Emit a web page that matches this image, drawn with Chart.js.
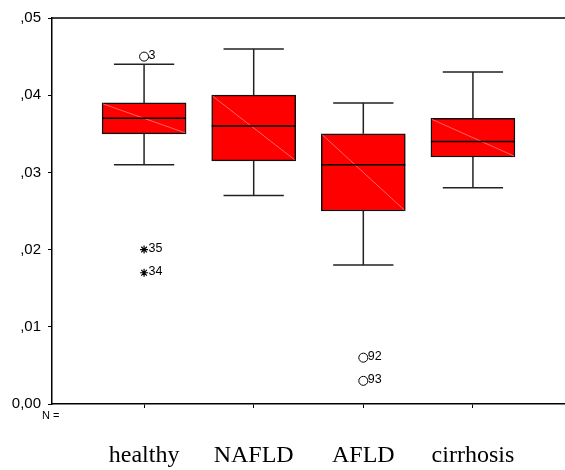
<!DOCTYPE html>
<html>
<head>
<meta charset="utf-8">
<script src="https://cdn.jsdelivr.net/npm/chart.js@4.4.1/dist/chart.umd.min.js"></script>
<style>
  html, body { margin: 0; padding: 0; background: #ffffff; }
  #wrap { width: 565px; height: 470px; position: relative; }
</style>
</head>
<body>
<div id="wrap"><canvas id="c" width="565" height="470"></canvas></div>
<script>
// ---- data ----
const categories   = ['healthy', 'NAFLD', 'AFLD', 'cirrhosis'];
const whiskerLow   = [0.031, 0.027, 0.018, 0.028];
const q1           = [0.035, 0.0315, 0.025, 0.032];
const median       = [0.037, 0.036, 0.031, 0.034];
const q3           = [0.039, 0.040, 0.035, 0.037];
const whiskerHigh  = [0.044, 0.046, 0.039, 0.043];

const outlierGroup = [0, 0, 0, 2, 2];
const outlierValue = [0.045, 0.020, 0.017, 0.006, 0.003];
const outlierId    = ['3', '35', '34', '92', '93'];
const outlierMark  = ['circle', 'star', 'star', 'circle', 'circle'];

const yTickValues  = [0, 0.01, 0.02, 0.03, 0.04, 0.05];
const yTickLabels  = ['0,00', ',01', ',02', ',03', ',04', ',05'];

// ---- style constants ----
const BOX_HALF = 0.383;   // half box width, in category units
const CAP_HALF = 0.275;   // half whisker-cap width
const pos = categories.map((_, i) => i + 1);

function segments(fn) {
  const out = [];
  pos.forEach((p, i) => {
    fn(p, i).forEach(pt => out.push(pt));
    out.push({ x: p + 0.5, y: null });
  });
  return out;
}

const boxData = pos.map((p, i) => ({ x: p, y: [q1[i], q3[i]] }));
const medianData = segments((p, i) => [{ x: p - BOX_HALF, y: median[i] }, { x: p + BOX_HALF, y: median[i] }]);
const whiskerData = segments((p, i) => [
  { x: p, y: q3[i] }, { x: p, y: whiskerHigh[i] }, { x: p, y: null },
  { x: p, y: q1[i] }, { x: p, y: whiskerLow[i] }
]);
const capData = segments((p, i) => [
  { x: p - CAP_HALF, y: whiskerHigh[i] }, { x: p + CAP_HALF, y: whiskerHigh[i] }, { x: p, y: null },
  { x: p - CAP_HALF, y: whiskerLow[i] }, { x: p + CAP_HALF, y: whiskerLow[i] }
]);
const circleOut = [], starOut = [];
outlierValue.forEach((v, k) => {
  const pt = { x: pos[outlierGroup[k]], y: v };
  (outlierMark[k] === 'circle' ? circleOut : starOut).push(pt);
});

const decor = {
  id: 'decor',
  afterDatasetDraw(chart, args) {
    if (args.meta.type !== 'bar') return;
    const ctx = chart.ctx;
    ctx.save();
    ctx.strokeStyle = 'rgba(255,140,140,0.9)';
    ctx.lineWidth = 0.8;
    args.meta.data.forEach(el => {
      const p = el.getProps(['x', 'y', 'base', 'width'], true);
      const l = p.x - p.width / 2, r = p.x + p.width / 2;
      const top = Math.min(p.y, p.base), bot = Math.max(p.y, p.base);
      ctx.beginPath();
      ctx.moveTo(l + 1, top + 1);
      ctx.lineTo(r - 1, bot - 1);
      ctx.stroke();
    });
    ctx.restore();
  },
  afterDraw(chart) {
    const ctx = chart.ctx, a = chart.chartArea;
    const xs = chart.scales.x, ys = chart.scales.y;
    ctx.save();
    // top frame line
    ctx.strokeStyle = '#000';
    ctx.lineWidth = 1.5;
    ctx.beginPath();
    ctx.moveTo(a.left, a.top);
    ctx.lineTo(chart.width, a.top);
    ctx.stroke();
    // outlier ids
    ctx.fillStyle = '#000';
    ctx.font = '12.5px "Liberation Sans", Arial, sans-serif';
    ctx.textBaseline = 'middle';
    ctx.textAlign = 'left';
    outlierValue.forEach((v, k) => {
      const px = xs.getPixelForValue(pos[outlierGroup[k]]);
      const py = ys.getPixelForValue(v);
      ctx.fillText(outlierId[k], px + 4.5, py - 1);
    });
    // N = label
    ctx.font = '11px "Liberation Sans", Arial, sans-serif';
    ctx.textAlign = 'left';
    ctx.fillText('N =', 42, a.bottom + 12);
    ctx.restore();
  }
};

new Chart(document.getElementById('c'), {
  type: 'bar',
  data: {
    datasets: [
      { type: 'line', data: medianData, borderColor: '#000', borderWidth: 1.5, pointRadius: 0, spanGaps: false, order: 0 },
      { type: 'bar', data: boxData, backgroundColor: '#ff0000', borderColor: '#111', borderWidth: 1.5,
        borderSkipped: false, barThickness: 84, order: 1 },
      { type: 'line', data: whiskerData, borderColor: '#222', borderWidth: 1.5, pointRadius: 0, spanGaps: false, order: 2 },
      { type: 'line', data: capData, borderColor: '#222', borderWidth: 1.5, pointRadius: 0, spanGaps: false, order: 2 },
      { type: 'scatter', data: circleOut, pointStyle: 'circle', pointRadius: 4.5, pointBorderColor: '#000',
        pointBackgroundColor: 'rgba(0,0,0,0)', pointBorderWidth: 1, order: 0 },
      { type: 'scatter', data: starOut, pointStyle: 'star', pointRadius: 4, pointBorderColor: '#000',
        pointBorderWidth: 1.2, order: 0 }
    ]
  },
  options: {
    responsive: false,
    animation: false,
    events: [],
    layout: { autoPadding: false, padding: { top: 18, left: 0, right: 0, bottom: 0 } },
    plugins: { legend: { display: false }, tooltip: { enabled: false } },
    scales: {
      x: {
        type: 'linear',
        offset: false,
        min: 0.16, max: 4.84,
        afterBuildTicks: s => { s.ticks = pos.map(v => ({ value: v })); },
        afterFit: s => { s.height = 66; s.paddingRight = 0; s.paddingLeft = 0; },
        grid: { display: true, offset: false, drawOnChartArea: false, drawTicks: true, tickLength: 4, color: '#000', lineWidth: 1 },
        border: { display: true, color: '#000', width: 1.5 },
        ticks: {
          autoSkip: false, maxRotation: 0, padding: 33, color: '#000',
          font: { family: '"Liberation Serif", "Times New Roman", serif', size: 24 },
          callback: v => categories[v - 1]
        }
      },
      y: {
        type: 'linear',
        min: 0, max: 0.05,
        afterBuildTicks: s => { s.ticks = yTickValues.map(v => ({ value: v })); },
        afterFit: s => { s.width = 52; },
        grid: { display: true, drawOnChartArea: false, drawTicks: true, tickLength: 4, color: '#000', lineWidth: 1 },
        border: { display: true, color: '#000', width: 1.5 },
        ticks: {
          autoSkip: false, padding: 7, color: '#000',
          font: { family: '"Liberation Sans", Arial, sans-serif', size: 15 },
          callback: (v, i) => yTickLabels[i]
        }
      }
    }
  },
  plugins: [decor]
});
</script>
</body>
</html>
